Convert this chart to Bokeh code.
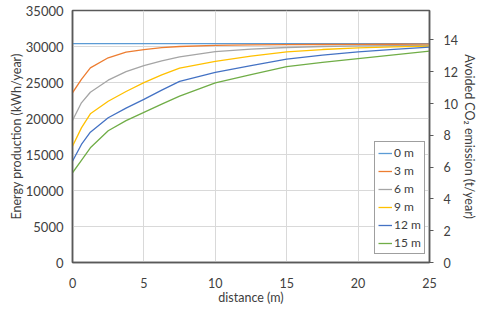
from bokeh.plotting import figure
from bokeh.models import Range1d, LinearAxis, FixedTicker, Legend, LegendItem
from bokeh.embed import file_html
from bokeh.resources import INLINE

distance = [0, 0.625, 1.25, 2.5, 3.75, 5, 6.25, 7.5, 10, 12.5, 15, 17.5, 20, 22.5, 25]
series_names = ["0 m", "3 m", "6 m", "9 m", "12 m", "15 m"]
e_0m = [30400] * 15
e_3m = [23570, 25420, 27040, 28430, 29210, 29580, 29850, 30000, 30150, 30220, 30260, 30280, 30300, 30310, 30320]
e_6m = [19720, 22180, 23650, 25320, 26500, 27350, 28000, 28550, 29280, 29640, 29860, 30000, 30080, 30130, 30160]
e_9m = [16150, 18700, 20650, 22400, 23750, 24980, 26050, 27000, 27920, 28650, 29250, 29580, 29820, 29960, 30060]
e_12m = [14070, 16390, 18100, 20100, 21450, 22650, 23950, 25150, 26400, 27350, 28250, 28800, 29250, 29600, 29900]
e_15m = [12460, 14200, 15930, 18300, 19700, 20850, 22000, 23100, 24950, 26100, 27200, 27800, 28330, 28850, 29350]
colors = ["#5B9BD5", "#ED7D31", "#A5A5A5", "#FFC000", "#4472C4", "#70AD47"]
x_ticks = [0, 5, 10, 15, 20, 25]
y_ticks = [0, 5000, 10000, 15000, 20000, 25000, 30000, 35000]
co2_ticks = [0, 2, 4, 6, 8, 10, 12, 14]
co2_factor = 0.000453

FONT = "Lato"
AX = "#595959"
TXT = "#404040"

p = figure(frame_width=357, frame_height=252, output_backend="svg", toolbar_location=None,
           x_range=Range1d(0, 25), y_range=Range1d(0, 35000),
           min_border_left=72, min_border_right=41, min_border_top=10, min_border_bottom=43)
p.background_fill_color = "white"
p.border_fill_color = "white"
p.outline_line_color = AX
p.outline_line_width = 1.5

p.extra_y_ranges = {"co2": Range1d(0, 35000 * co2_factor)}

series = [e_0m, e_3m, e_6m, e_9m, e_12m, e_15m]
items = []
for name, vals, c in zip(series_names, series, colors):
    r = p.line(distance, vals, line_color=c, line_width=1.3)
    items.append(LegendItem(label=name, renderers=[r]))

# grid
p.xgrid.ticker = FixedTicker(ticks=x_ticks)
p.ygrid.ticker = FixedTicker(ticks=y_ticks)
p.xgrid.grid_line_color = "#D9D9D9"
p.ygrid.grid_line_color = "#D9D9D9"

# x axis
xa = p.xaxis[0]
xa.ticker = FixedTicker(ticks=x_ticks)
xa.axis_label = "distance (m)"
xa.major_tick_line_color = None
xa.minor_tick_line_color = None
xa.axis_line_color = AX
xa.axis_line_width = 1.5
xa.major_label_text_font = FONT
xa.major_label_text_font_size = "12.5px"
xa.major_label_text_color = TXT
xa.axis_label_text_font = FONT
xa.axis_label_text_font_size = "12.5px"
xa.axis_label_text_font_style = "normal"
xa.axis_label_text_color = TXT
xa.major_label_standoff = 9
xa.axis_label_standoff = -1

# left axis
ya = p.yaxis[0]
ya.ticker = FixedTicker(ticks=y_ticks)
ya.axis_label = "Energy production (kWh/year)"
ya.major_tick_line_color = None
ya.minor_tick_line_color = None
ya.axis_line_color = AX
ya.axis_line_width = 1.5
ya.major_label_text_font = FONT
ya.major_label_text_font_size = "13px"
ya.major_label_text_color = TXT
ya.axis_label_text_font = FONT
ya.axis_label_text_font_size = "12.5px"
ya.axis_label_text_font_style = "normal"
ya.axis_label_text_color = TXT
ya.major_label_standoff = 3
ya.axis_label_standoff = -1

# right axis
ra = LinearAxis(y_range_name="co2", ticker=FixedTicker(ticks=co2_ticks),
                axis_label="Avoided CO\u2082 emission (t/year)")
ra.major_tick_out = 4
ra.major_tick_in = 0
ra.major_tick_line_color = AX
ra.minor_tick_line_color = None
ra.axis_line_color = AX
ra.axis_line_width = 1.5
ra.major_label_text_font = FONT
ra.major_label_text_font_size = "12.5px"
ra.major_label_text_color = TXT
ra.axis_label_text_font = FONT
ra.axis_label_text_font_size = "12.5px"
ra.axis_label_text_font_style = "normal"
ra.axis_label_text_color = TXT
ra.major_label_standoff = 10
ra.axis_label_standoff = 1
p.add_layout(ra, "right")

leg = Legend(items=items, location=(302, 8))
leg.border_line_color = TXT
leg.border_line_width = 1
leg.background_fill_color = "white"
leg.background_fill_alpha = 1
leg.label_text_font = FONT
leg.label_text_font_size = "12px"
leg.label_text_color = TXT
leg.glyph_width = 14
leg.glyph_height = 14
leg.label_height = 14
leg.label_standoff = 2
leg.spacing = 3
leg.padding = 3
leg.margin = 0
p.add_layout(leg)

open("out.html", "w").write(file_html(p, INLINE))
